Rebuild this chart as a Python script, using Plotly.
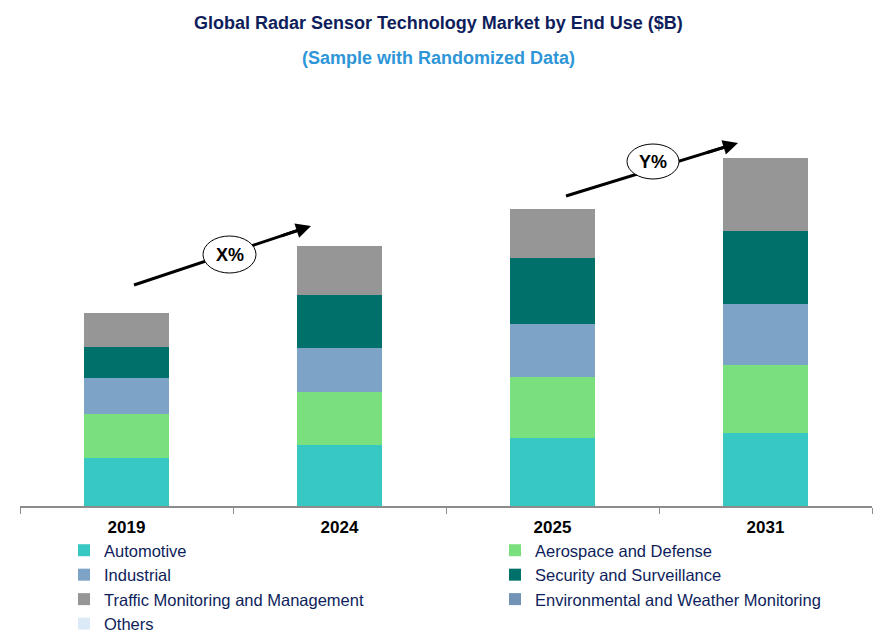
import plotly.graph_objects as go

# Market size by end use ($B)
years = ['2019', '2024', '2025', '2031']
automotive = [4.8, 6.1, 6.8, 7.3]
aerospace = [4.4, 5.3, 6.1, 6.8]
industrial = [3.6, 4.4, 5.3, 6.1]
security = [3.1, 5.3, 6.6, 7.3]
traffic = [3.4, 4.9, 4.9, 7.3]
environmental = [0, 0, 0, 0]
others = [0, 0, 0, 0]

series = [
    ('Automotive', automotive, '#38C8C4', 'legend'),
    ('Aerospace and Defense', aerospace, '#7AE07E', 'legend2'),
    ('Industrial', industrial, '#7DA3C7', 'legend'),
    ('Security and Surveillance', security, '#00716A', 'legend2'),
    ('Traffic Monitoring and Management', traffic, '#969696', 'legend'),
    ('Environmental and Weather Monitoring', environmental, '#7193B5', 'legend2'),
    ('Others', others, '#DCEAF7', 'legend'),
]

font_family = 'Liberation Sans, Arial, sans-serif'
navy = '#0E1E5B'

# plot area in page pixels: x 20..872, y 106..506 (page body has an 8px margin)
def px(x):
    return (x - 20) / 852

def py(y):
    return (506 - y) / 400

fig = go.Figure()
for name, vals, color, leg in series:
    fig.add_trace(go.Bar(name=name, x=years, y=vals, marker_color=color,
                         marker_line_width=0, width=0.4, legend=leg))

# growth arrows with ellipse labels
shapes = []
annotations = []
arrows = [
    # tail, head, ellipse centre, radii, label, start of drawn arrowhead
    ((134, 285), (311, 226), (229.5, 254.5), (26.5, 18.5), 'X%', (280, 236.3)),
    ((566, 196), (738, 143), (653, 161.5), (26, 17.5), 'Y%', (705, 153.2)),
]
for tail, head, c, r, label, start in arrows:
    # main line stops just short of the tip, arrowhead drawn on top
    ex = head[0] - (head[0] - tail[0]) * 0.04
    ey = head[1] - (head[1] - tail[1]) * 0.04
    shapes.append(dict(type='line', xref='paper', yref='paper',
                       x0=px(tail[0]), y0=py(tail[1]), x1=px(ex), y1=py(ey),
                       line=dict(color='black', width=3), layer='above'))
    shapes.append(dict(type='circle', xref='paper', yref='paper',
                       x0=px(c[0] - r[0]), x1=px(c[0] + r[0]),
                       y0=py(c[1] + r[1]), y1=py(c[1] - r[1]),
                       fillcolor='white', line=dict(color='black', width=1), layer='above'))
    annotations.append(dict(xref='paper', yref='paper', x=px(head[0]), y=py(head[1]),
                            ax=start[0] - head[0], ay=start[1] - head[1], text='',
                            showarrow=True, arrowhead=2, arrowsize=1, arrowwidth=3,
                            arrowcolor='black'))
    annotations.append(dict(xref='paper', yref='paper', x=px(c[0]), y=py(c[1]),
                            xanchor='center', yanchor='middle',
                            text='<b>' + label + '</b>', showarrow=False,
                            font=dict(size=18, color='black', family=font_family)))

annotations.append(dict(xref='paper', yref='paper', x=px(438), y=py(23),
                        xanchor='center', yanchor='middle',
                        text='<b>Global Radar Sensor Technology Market by End Use ($B)</b>',
                        showarrow=False, font=dict(size=18, color='#0E1E5B', family=font_family)))
annotations.append(dict(xref='paper', yref='paper', x=px(438), y=py(58),
                        xanchor='center', yanchor='middle',
                        text='<b>(Sample with Randomized Data)</b>',
                        showarrow=False, font=dict(size=18, color='#2E96D8', family=font_family)))

legend_style = dict(orientation='v', traceorder='normal', yanchor='top', xanchor='left',
                    font=dict(size=16.5, color=navy, family=font_family),
                    bgcolor='rgba(0,0,0,0)')

fig.update_layout(
    width=884, height=627,
    margin=dict(l=12, r=20, t=98, b=129, autoexpand=False),
    barmode='stack',
    plot_bgcolor='white', paper_bgcolor='white',
    font=dict(family=font_family),
    showlegend=True,
    legend=dict(x=px(64), y=py(533), **legend_style),
    legend2=dict(x=px(495), y=py(533), **legend_style),
    shapes=shapes,
    annotations=annotations,
    xaxis=dict(type='category', showline=True, linecolor='#8C8C8C', linewidth=1.5,
               ticks='outside', tickson='boundaries', ticklen=6, tickcolor='#8C8C8C',
               tickfont=dict(size=17, color='black', family=font_family),
               ticklabelstandoff=5,
               tickprefix='<b>', ticksuffix='</b>', showgrid=False),
    yaxis=dict(range=[0, 40], visible=False, showgrid=False),
)

fig.write_html("out.html")
